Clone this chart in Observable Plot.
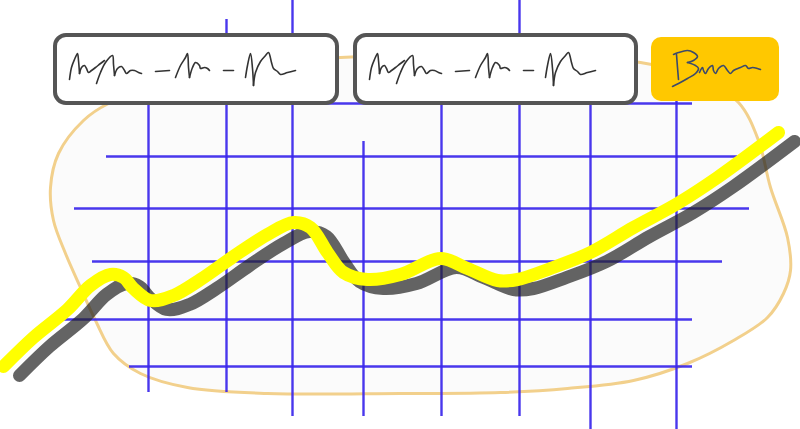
<!DOCTYPE html>
<html>
<head>
<meta charset="utf-8">
<script src="https://cdn.jsdelivr.net/npm/d3@7"></script>
<script src="https://cdn.jsdelivr.net/npm/@observablehq/plot@0.6"></script>
<style>
  html, body { margin: 0; padding: 0; background: #ffffff; }
  #chart svg { display: block; background: #ffffff; }
</style>
</head>
<body>
<div id="chart"></div>
<script>
// ---- Blob (background shape) outline points ----
const blobX = [83,108,200,340,500,640,700,738,758,770,787,790,783,767,733,687,633,567,500,400,267,187,140,113,95,80,65,53,50,58];
const blobY = [120,103,72,57,55,62,78,102,140,187,237,270,293,317,340,363,380,388,392,393,393,387,373,353,320,287,253,220,187,153];

// ---- Grid: vertical lines ----
const gridVX      = [148,226,292,363,441,519,590,676];
const gridVTop    = [100,19,0,141,100,0,100,100];
const gridVBottom = [392,392,416,416,416,416,429,429];

// ---- Grid: horizontal lines ----
const gridHY     = [103,156,208,261,319,366];
const gridHLeft  = [129,106,74,92,63,129];
const gridHRight = [692,737,749,722,692,692];

// ---- Trend line (yellow with shadow) ----
const trendX = [3,33,67,90,110,123,133,150,173,200,233,267,293,310,327,343,367,400,440,467,497,517,550,590,633,677,717,778];
const trendY = [366,337,309,285,274,277,288,300,295,279,256,234,222,227,252,272,279,274,258,268,280,279,268,252,227,203,177,132];

// ---- Boxes (two outlined fields + one button) ----
const boxX1 = [55,355];
const boxX2 = [337,636];
const boxY1 = [35,35];
const boxY2 = [103,103];
const buttonX1 = [651];
const buttonX2 = [779];
const buttonY1 = [37];
const buttonY2 = [101];

// ---- Scribbles inside the fields (placeholder handwriting) ----
const scribbleField = [
  [[69,79],[71,67],[74,59],[77,53],[78,60],[79,73]],
  [[79,73],[81,67],[84,65],[86,68],[88,72],[91,70],[95,67],[100,63],[104,60]],
  [[96,83],[100,72],[105,62],[112,55],[113,64],[114,75]],
  [[114,75],[117,68],[121,66],[124,70],[126,73],[130,70],[134,70],[138,72],[141,73]],
  [[155,71],[169,70]],
  [[175,77],[180,65],[185,57],[187,53],[188,67],[189,77]],
  [[189,77],[192,67],[195,62],[199,65],[200,68],[204,67],[207,68],[209,70]],
  [[223,70],[233,70]],
  [[245,77],[247,65],[250,53],[252,68],[253,85]],
  [[253,85],[255,72],[260,61],[265,55],[268,52],[271,62],[273,68],[277,71],[280,74],[287,72],[295,70]]
];
const scribbleButton = [
  [[673,54],[678,52],[687,50],[693,52],[697,56],[693,60],[687,62]],
  [[687,62],[695,65],[698,68],[695,73],[687,78],[678,83],[672,86]],
  [[676,54],[677,67],[678,79]],
  [[699,72],[702,67],[703,70],[705,73],[708,68],[712,65],[713,70],[715,73],[718,68],[723,65],[727,70],[730,73],[733,70],[740,67],[745,65],[748,68],[752,67],[757,68],[760,69]]
];

// ---- Build tables ----
const blob = blobX.map((x, i) => ({x, y: blobY[i]}));
const vlines = gridVX.map((x, i) => ({x, y1: gridVTop[i], y2: gridVBottom[i]}));
const hlines = gridHY.map((y, i) => ({y, x1: gridHLeft[i], x2: gridHRight[i]}));
const trend = trendX.map((x, i) => ({x, y: trendY[i]}));
const boxes = boxX1.map((x1, i) => ({x1, x2: boxX2[i], y1: boxY1[i], y2: boxY2[i]}));
const buttons = buttonX1.map((x1, i) => ({x1, x2: buttonX2[i], y1: buttonY1[i], y2: buttonY2[i]}));
const flat = (strokes) => strokes.flatMap((s, k) => s.map(([x, y]) => ({x, y, k})));
const scrF = flat(scribbleField);
const scrB = flat(scribbleButton);

const blue = "#3a26ec";

const chart = Plot.plot({
  width: 800,
  height: 429,
  margin: 0,
  style: {background: "#ffffff"},
  x: {domain: [0, 800], range: [0, 800], axis: null},
  y: {domain: [0, 429], range: [0, 429], axis: null},
  marks: [
    Plot.line(blob, {x: "x", y: "y", curve: "catmull-rom-closed", fill: "#fbfbfb", stroke: "#f2d08c", strokeWidth: 3}),
    Plot.ruleX(vlines, {x: "x", y1: "y1", y2: "y2", stroke: blue, strokeWidth: 2.4, strokeOpacity: 0.92}),
    Plot.ruleY(hlines, {y: "y", x1: "x1", x2: "x2", stroke: blue, strokeWidth: 2.4, strokeOpacity: 0.92}),
    Plot.line(trend, {x: "x", y: "y", curve: "catmull-rom", stroke: "#222222", strokeOpacity: 0.7, strokeWidth: 13, dx: 16, dy: 9}),
    Plot.line(trend, {x: "x", y: "y", curve: "catmull-rom", stroke: "#ffff00", strokeWidth: 13}),
    Plot.rect(boxes, {x1: "x1", x2: "x2", y1: "y1", y2: "y2", rx: 11, fill: "#ffffff", stroke: "#555555", strokeWidth: 4}),
    Plot.rect(buttons, {x1: "x1", x2: "x2", y1: "y1", y2: "y2", rx: 10, fill: "#ffc800"}),
    Plot.line(scrF, {x: "x", y: "y", z: "k", stroke: "#333333", strokeWidth: 1.6, curve: "catmull-rom"}),
    Plot.line(scrF, {x: "x", y: "y", z: "k", stroke: "#333333", strokeWidth: 1.6, curve: "catmull-rom", dx: 300}),
    Plot.line(scrB, {x: "x", y: "y", z: "k", stroke: "#3c4a6b", strokeWidth: 1.6, curve: "catmull-rom"})
  ]
});
document.getElementById("chart").appendChild(chart);
</script>
</body>
</html>
